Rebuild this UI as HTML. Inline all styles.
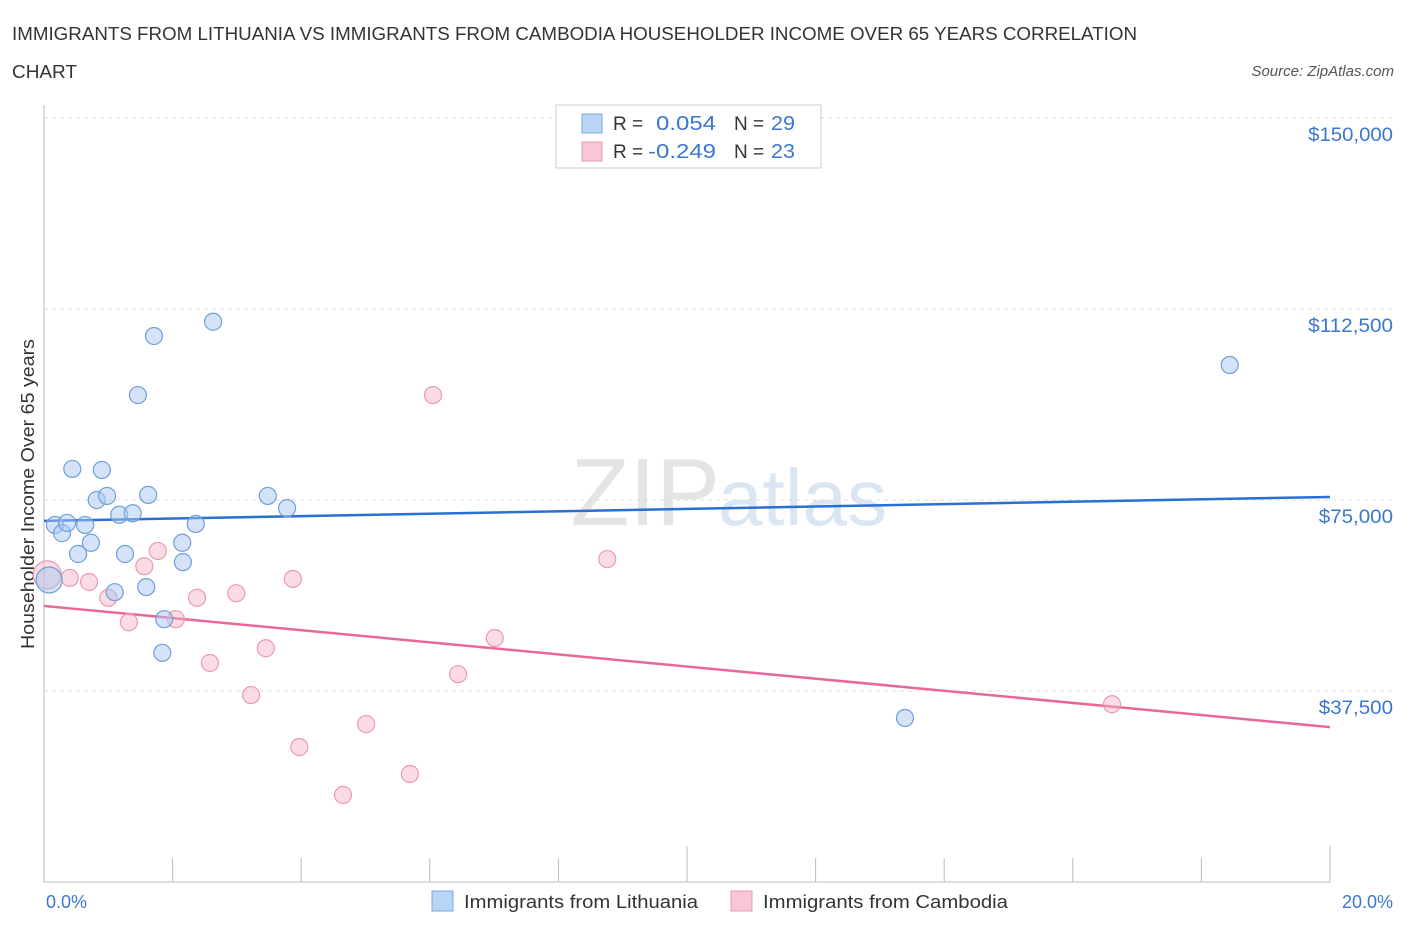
<!DOCTYPE html>
<html><head><meta charset="utf-8"><style>
body{margin:0;background:#fff;font-family:"Liberation Sans",sans-serif;}
svg text{font-family:"Liberation Sans",sans-serif;}
</style></head><body>
<svg id="c" width="1406" height="930">
<text x="12" y="40" font-size="18" fill="#333" textLength="1125" lengthAdjust="spacingAndGlyphs">IMMIGRANTS FROM LITHUANIA VS IMMIGRANTS FROM CAMBODIA HOUSEHOLDER INCOME OVER 65 YEARS CORRELATION</text>
<text x="12" y="78" font-size="18" fill="#333" textLength="65" lengthAdjust="spacingAndGlyphs">CHART</text>
<text x="1394" y="76" font-size="15" fill="#555" font-style="italic" text-anchor="end">Source: ZipAtlas.com</text>
<text x="720" y="525" font-size="96" fill="#e4e4e4" text-anchor="end" font-family="Liberation Serif">ZIP</text>
<text x="718" y="525" font-size="80" fill="#dbe6f3">atlas</text>
<text transform="translate(34,494) rotate(-90)" font-size="18" fill="#333" text-anchor="middle" textLength="310" lengthAdjust="spacingAndGlyphs">Householder Income Over 65 years</text>
<g id="grid"></g><g id="ticks"></g><g id="lines"></g><g id="pts"></g>
<g>
<rect x="556" y="105" width="265" height="63" fill="#fff" stroke="#ccc"/>
<rect x="582" y="114" width="20" height="19" fill="#b9d4f5" stroke="#7aa8e3"/>
<rect x="582" y="142" width="20" height="19" fill="#f8c6d5" stroke="#e99ab2"/>
<text x="613" y="130" font-size="19" fill="#333">R =</text>
<text x="656" y="130" font-size="20" fill="#3a78d0" textLength="60" lengthAdjust="spacingAndGlyphs">0.054</text>
<text x="734" y="130" font-size="19" fill="#333">N =</text>
<text x="771" y="130" font-size="20" fill="#3a78d0" textLength="24" lengthAdjust="spacingAndGlyphs">29</text>
<text x="613" y="158" font-size="19" fill="#333">R =</text>
<text x="648" y="158" font-size="20" fill="#3a78d0" textLength="68" lengthAdjust="spacingAndGlyphs">-0.249</text>
<text x="734" y="158" font-size="19" fill="#333">N =</text>
<text x="771" y="158" font-size="20" fill="#3a78d0" textLength="24" lengthAdjust="spacingAndGlyphs">23</text>
</g>
<text x="46" y="908" font-size="18" fill="#3a78d0">0.0%</text>
<text x="1393" y="908" font-size="18" fill="#3a78d0" text-anchor="end">20.0%</text>
<g>
<rect x="432" y="891" width="21" height="20" fill="#b9d4f5" stroke="#7aa8e3"/>
<text x="464" y="908" font-size="18" fill="#333" textLength="234" lengthAdjust="spacingAndGlyphs">Immigrants from Lithuania</text>
<rect x="731" y="891" width="21" height="20" fill="#f8c6d5" stroke="#e99ab2"/>
<text x="763" y="908" font-size="18" fill="#333" textLength="245" lengthAdjust="spacingAndGlyphs">Immigrants from Cambodia</text>
</g>
</svg>
<script>
const yTicks=[37500,75000,112500,150000];
const yTickLabels=["$37,500","$75,000","$112,500","$150,000"];
const xTicks=[0,2,4,6,8,10,12,14,16,18,20];
const blueX=[0.08,0.17,0.28,0.36,0.44,0.53,0.64,0.73,0.82,0.90,0.98,1.10,1.17,1.26,1.38,1.46,1.59,1.62,1.71,1.87,1.84,2.15,2.16,2.36,2.63,3.48,3.78,13.39,18.44];
const blueY=[59.3,70.1,68.5,70.5,81.1,64.4,70.1,66.6,75.0,80.9,75.8,56.9,72.1,64.4,72.4,95.6,57.9,76.0,107.2,51.6,45.0,66.6,62.8,70.3,110.0,75.8,73.4,32.2,101.5];
const pinkX=[0.05,0.40,0.70,1.00,1.32,1.56,1.77,2.05,2.38,2.58,2.99,3.22,3.45,3.87,3.97,4.65,5.01,5.69,6.05,6.44,7.01,8.76,16.61];
const pinkY=[60.3,59.7,58.9,55.8,51.0,62.0,65.0,51.6,55.8,43.0,56.7,36.7,45.9,59.5,26.5,17.1,31.0,21.2,95.6,40.8,47.9,63.4,34.9];
const blueTrend=[70.9,75.6];
const pinkTrend=[54.2,30.4];
const NS="http://www.w3.org/2000/svg";
const X=p=>44+p/20*1286;
const Y=v=>882-v/75000*382;
function mk(tag,at,parent){const e=document.createElementNS(NS,tag);for(const k in at)e.setAttribute(k,at[k]);document.getElementById(parent).appendChild(e);return e;}
yTicks.forEach((t,i)=>{
 const l=mk('line',{x1:44,x2:1392,y1:Y(t),y2:Y(t),stroke:'#ddd','stroke-dasharray':'4,4'},'grid');
 
 
 const tx=mk('text',{x:1393,y:Y(t)+23,'font-size':19,fill:'#3a78d0','text-anchor':'end',textLength:yTickLabels[i].length*10.6,lengthAdjust:'spacingAndGlyphs'},'grid');
 tx.textContent=yTickLabels[i];
 
 
});
let a=mk('line',{x1:44,x2:44,y1:105,y2:882,stroke:'#bbb'},'ticks');


a=mk('line',{x1:44,x2:1330,y1:882,y2:882,stroke:'#bbb'},'ticks');


xTicks.forEach((t,i)=>{
 const l=mk('line',{x1:X(t),x2:X(t),y1:882-(i==0||i==10||i==5?36:24),y2:882,stroke:'#bbb'},'ticks');
 
 
});
let tl=mk('line',{x1:X(0),x2:X(20),y1:Y(blueTrend[0]*1000),y2:Y(blueTrend[1]*1000),stroke:'#2a6fd4','stroke-width':2.5},'lines');


tl=mk('line',{x1:X(0),x2:X(20),y1:Y(pinkTrend[0]*1000),y2:Y(pinkTrend[1]*1000),stroke:'#e8679a','stroke-width':2.5},'lines');


pinkX.forEach((x,i)=>{
 const c=mk('circle',{cx:X(x),cy:Y(pinkY[i]*1000),r:i==0?14:8.5,fill:'rgba(246,178,198,0.45)',stroke:'#eb9ab3','stroke-width':1.2},'pts');
 
 
});
blueX.forEach((x,i)=>{
 const c=mk('circle',{cx:X(x),cy:Y(blueY[i]*1000),r:i==0?13:8.5,fill:'rgba(170,200,240,0.5)',stroke:'#6f9fdc','stroke-width':1.2},'pts');
 
 
});
</script>
</body></html>
